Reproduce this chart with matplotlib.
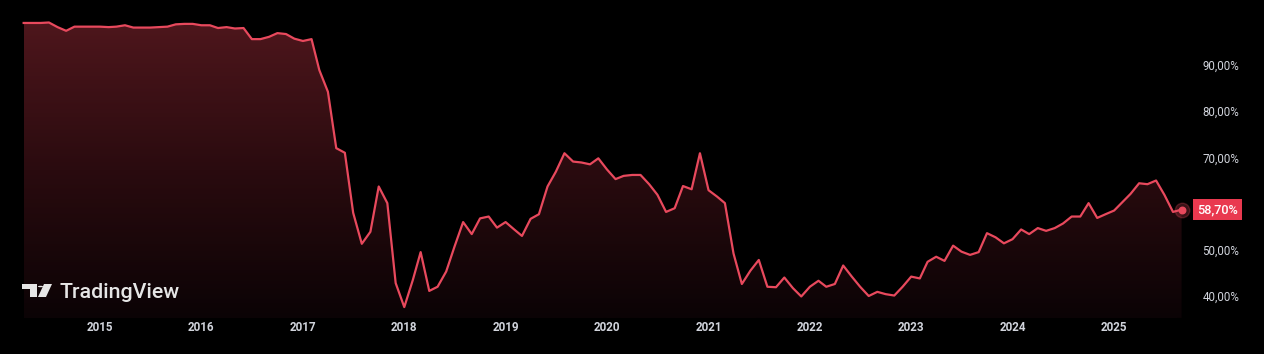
import numpy as np
import pandas as pd
import matplotlib
matplotlib.use("Agg")
import matplotlib.pyplot as plt
import matplotlib.dates as mdates
from matplotlib.patches import Polygon, Circle
from matplotlib.colors import LinearSegmentedColormap

# ---- data (monthly, Apr 2014 .. Sep 2025), percent ----
start_month = "2014-04-01"
values = [
    99.1, 99.1, 99.1, 99.2, 98.2, 97.4, 98.3, 98.3, 98.3,            # 2014 Apr-Dec
    98.3, 98.2, 98.3, 98.6, 98.1, 98.1, 98.1, 98.2, 98.3, 98.8, 98.9, 98.9,  # 2015
    98.6, 98.6, 98.0, 98.2, 97.9, 98.0, 95.6, 95.6, 96.1, 96.9, 96.7, 95.7,  # 2016
    95.2, 95.6, 88.9, 84.2, 72.0, 71.0, 58.0, 51.3, 53.9, 63.7, 60.1, 42.8,  # 2017
    37.6, 43.5, 49.5, 41.1, 42.0, 45.3, 50.7, 56.0, 53.4, 56.8, 57.2, 54.8,  # 2018
    56.0, 54.4, 53.0, 56.7, 57.7, 63.7, 66.9, 70.9, 69.1, 68.9, 68.5, 69.8,  # 2019
    67.4, 65.3, 66.0, 66.2, 66.2, 64.2, 61.9, 58.2, 59.0, 63.8, 63.1, 70.9,  # 2020
    62.9, 61.5, 60.1, 49.2, 42.6, 45.5, 47.8, 42.0, 41.9, 44.0, 41.7, 39.9,  # 2021
    42.0, 43.3, 42.0, 42.6, 46.6, 44.2, 42.0, 40.0, 40.9, 40.4, 40.1, 42.0,  # 2022
    44.2, 43.8, 47.4, 48.5, 47.6, 50.9, 49.6, 48.9, 49.5, 53.6, 52.7, 51.4,  # 2023
    52.3, 54.4, 53.4, 54.7, 54.1, 54.7, 55.7, 57.2, 57.2, 60.1, 56.9, 57.7,  # 2024
    58.5, 60.4, 62.1, 64.4, 64.2, 65.0, 61.9, 58.2, 58.7,                    # 2025 Jan-Sep
]
y_ticks = [40, 50, 60, 70, 80, 90]
year_ticks = list(range(2015, 2026))
last_label = "58,70%"

dates = pd.date_range(start_month, periods=len(values), freq="MS")
x = mdates.date2num(dates)
v = np.array(values)

BG = "#000000"
LINE = "#e8495d"
TXT = "#d1d4dc"
LABEL_BG = "#e9394f"

W, H = 1264, 354
fig = plt.figure(figsize=(W / 100, H / 100), dpi=100, facecolor=BG)
ax = fig.add_axes([0, 36 / H, 1190 / W, 1 - 36 / H])
ax.set_facecolor(BG)
for s in ax.spines.values():
    s.set_visible(False)

# scales
px_per_pct = 231 / 50.0
ytop = 90 + 65 / px_per_pct
ybot = 40 - 22 / px_per_pct
ax.set_ylim(ybot, ytop)
d2015 = mdates.date2num(pd.Timestamp("2015-01-01"))
days_per_px = 365.25 / 101.4
ax.set_xlim(d2015 - 100 * days_per_px, d2015 + 1090 * days_per_px)

# gradient fill under the line
poly_xy = np.vstack([np.column_stack([x, v]),
                     [[x[-1], ybot], [x[0], ybot]]])
poly = Polygon(poly_xy, closed=True, facecolor="none", edgecolor="none")
ax.add_patch(poly)
cmap = LinearSegmentedColormap.from_list("g", ["#0b0305", "#2a0b0f", "#4e161c"])
grad = np.linspace(0, 1, 256).reshape(-1, 1)
im = ax.imshow(grad, cmap=cmap, origin="lower", aspect="auto",
               extent=[x[0], x[-1], ybot, v.max()], zorder=1)
im.set_clip_path(poly)

ax.plot(x, v, color=LINE, lw=1.6, zorder=3, solid_joinstyle="round")

# last point marker
ax.scatter([x[-1]], [v[-1]], s=110, facecolor=LINE, alpha=0.25,
           edgecolor=LINE, linewidth=1.0, zorder=4)
ax.scatter([x[-1]], [v[-1]], s=22, color=LINE, zorder=5)

# axes ticks
ax.yaxis.tick_right()
ax.set_yticks(y_ticks)
ax.set_yticklabels([f"{t},00%" for t in y_ticks], fontfamily="Roboto",
                   fontsize=8.3, color=TXT)
ax.tick_params(axis="y", length=0, pad=9)
ax.set_xticks([mdates.date2num(pd.Timestamp(f"{yr}-01-01")) for yr in year_ticks])
ax.set_xticklabels([str(yr) for yr in year_ticks], fontfamily="Roboto",
                   fontweight="bold", fontsize=8.4, color=TXT)
ax.tick_params(axis="x", length=0, pad=2)
for lab in ax.get_yticklabels():
    lab.set_horizontalalignment("left")

# last value label box
ax.annotate(last_label, xy=(1.0, v[-1]), xycoords=("axes fraction", "data"),
            xytext=(1197 - 1190, 0), textcoords="offset pixels",
            ha="left", va="center", fontfamily="Roboto", fontweight="medium",
            fontsize=9.2, color="white", zorder=10, annotation_clip=False,
            bbox=dict(boxstyle="square,pad=0.3", facecolor=LABEL_BG,
                      edgecolor="none"))

# TradingView logo (figure pixel coordinates, y measured from top)
def P(px, py):
    return (px / W, 1 - py / H)

LOGO = "#e6e6e6"
fig.patches.append(Polygon([P(22, 284), P(37, 284), P(37, 297), P(30, 297),
                            P(30, 289), P(22, 289)], closed=True,
                           transform=fig.transFigure, facecolor=LOGO,
                           edgecolor="none"))
fig.patches.append(Circle(P(40.5, 286.5), 2.6 / W, transform=fig.transFigure,
                          facecolor=LOGO, edgecolor="none"))
fig.patches.append(Polygon([P(44, 284), P(52, 284), P(46, 297), P(38, 297)],
                           closed=True, transform=fig.transFigure,
                           facecolor=LOGO, edgecolor="none"))
fig.text(59 / W, 1 - 297.5 / H, "TradingView", fontfamily="Roboto",
         fontweight="medium", fontsize=15.4, color=LOGO, ha="left",
         va="baseline")

fig.savefig("out.png", dpi=100, facecolor=BG)
